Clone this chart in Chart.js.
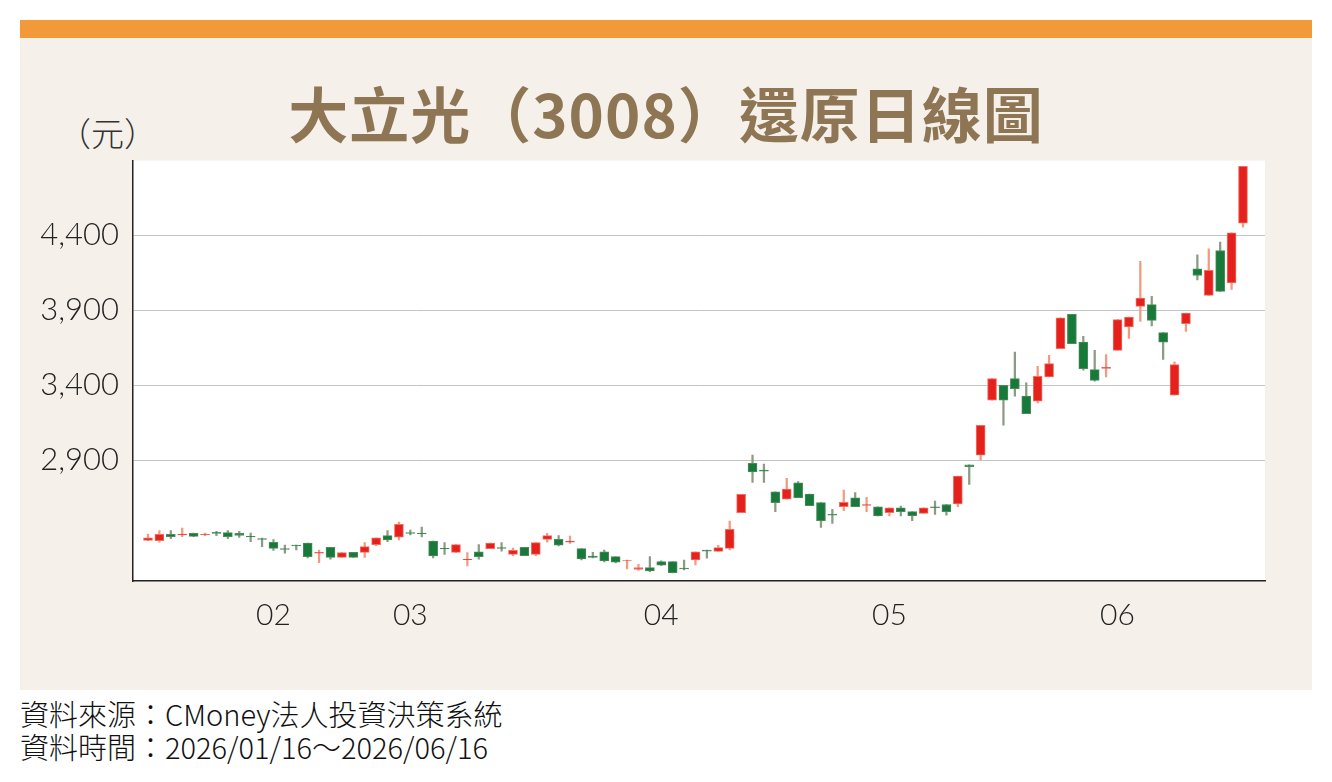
<!DOCTYPE html>
<html><head><meta charset="utf-8">
<script src="https://cdn.jsdelivr.net/npm/chart.js@4.4.1/dist/chart.umd.min.js"></script>
<style>
body{margin:0;background:#fff;width:1332px;height:782px;position:relative;overflow:hidden;font-family:"Noto Sans CJK TC","Noto Sans",sans-serif}
#panel{position:absolute;left:20px;top:20px;width:1292px;height:670px;background:#f5f1ea}
#bar{position:absolute;left:20px;top:20px;width:1292px;height:18px;background:#f29a3a}
#title{position:absolute;left:20px;width:1292px;top:74px;text-align:center;font-size:60px;font-weight:bold;color:#8e7554;line-height:76px;letter-spacing:1px}
#unit{position:absolute;left:58px;top:110px;font-size:33px;color:#333;line-height:44px;font-weight:300}
#cv{position:absolute;left:20px;top:128px;width:1292px;height:552px}
.foot{position:absolute;left:20px;font-size:29px;color:#111;line-height:32px;font-weight:300}
</style></head><body>
<div id="panel"></div><div id="bar"></div>
<div id="title">大立光（3008）還原日線圖</div>
<div id="unit">（元）</div>
<canvas id="cv" width="1292" height="552"></canvas>
<div class="foot" style="top:697px">資料來源：CMoney法人投資決策系統</div>
<div class="foot" style="top:730px">資料時間：2026/01/16～2026/06/16</div>
<script>
const opens=[2364,2362,2405,2400,2411,2402,2418,2416,2411,2391,2376,2351,2309,2333,2347,2278,2318,2251,2284,2284,2336,2396,2385,2416,2413,
2360,2311,2284,2236,2287,2309,2316,2271,2318,2271,2371,2371,2353,2309,2260,2287,2256,2227,2171,2182,2222,2222,2180,2233,
2300,2291,2311,2549,2878,2833,2689,2640,2749,2673,2616,2538,2589,2649,2598,2589,2549,2582,2556,2544,2589,2604,2607,2869,
2933,3300,3400,3444,3327,3293,3456,3644,3873,3689,3504,3513,3633,3789,
3927,3938,3751,3333,3811,4178,4000,4300,4084,4482];
const closes=[2382,2405,2389,2405,2391,2405,2411,2389,2398,2387,2371,2311,2304,2327,2256,2284,2251,2282,2251,2322,2382,2367,2471,2411,2409,
2260,2307,2336,2238,2256,2347,2311,2298,2262,2349,2396,2333,2358,2240,2251,2227,2218,2229,2182,2160,2198,2149,2173,2287,
2293,2316,2438,2671,2822,2827,2616,2707,2649,2596,2496,2533,2618,2589,2604,2527,2582,2556,2529,2582,2582,2556,2793,2856,
3133,3444,3300,3378,3211,3460,3544,3851,3678,3511,3433,3520,3838,3856,
3982,3833,3687,3538,3882,4133,4167,4027,4418,4862];
const highs=[2407,2429,2429,2447,2413,2413,2425,2429,2425,2413,2380,2369,2333,2333,2347,2300,2318,2282,2284,2349,2382,2429,2487,2433,2453,
2360,2349,2336,2282,2336,2347,2349,2313,2318,2349,2411,2396,2393,2309,2284,2300,2256,2233,2204,2256,2227,2222,2233,2287,
2300,2331,2493,2671,2933,2873,2689,2778,2756,2673,2616,2571,2700,2684,2651,2589,2582,2593,2556,2582,2627,2604,2793,2869,
3133,3444,3400,3622,3416,3527,3600,3851,3873,3727,3633,3604,3838,3856,
4227,3993,3751,3556,3882,4271,4311,4356,4418,4862];
const lows=[2362,2353,2375,2389,2389,2395,2395,2376,2384,2356,2322,2298,2278,2300,2247,2216,2238,2251,2251,2251,2329,2356,2367,2400,2387,
2247,2271,2284,2193,2238,2309,2293,2262,2262,2262,2353,2327,2344,2233,2247,2220,2213,2173,2164,2156,2196,2147,2167,2200,
2245,2291,2300,2549,2751,2751,2556,2640,2649,2596,2451,2478,2562,2589,2556,2527,2527,2527,2496,2544,2538,2533,2589,2738,
2900,3300,3133,3327,3211,3282,3456,3644,3678,3500,3427,3456,3633,3713,
3827,3796,3573,3333,3760,4104,4000,4027,4040,4456];
const monthIdx=[11,23,45,65,85];
const monthLabels=['02','03','04','05','06'];
const yTicks=[2900,3400,3900,4400];

const up=opens.map((o,i)=>closes[i]>=o);
const bodyData=opens.map((o,i)=>({x:i,y:[Math.min(o,closes[i]),Math.max(o,closes[i])]}));
const wickData=opens.map((o,i)=>({x:i,y:[lows[i],highs[i]]}));
const bg={id:'bg',beforeDraw(c){const a=c.chartArea,x=c.ctx;x.save();x.fillStyle='#fff';x.fillRect(a.left,a.top,a.right-a.left,a.bottom-a.top);x.restore();}};
new Chart(document.getElementById('cv'),{
 type:'bar',
 data:{datasets:[
  {data:wickData,barThickness:1.6,backgroundColor:up.map(u=>u?'#f29a80':'#8c9c84'),borderWidth:0,grouped:false,order:2},
  {data:bodyData,barThickness:9,backgroundColor:up.map(u=>u?'#e5211d':'#177a3a'),borderColor:up.map(u=>u?'#f07060':'#4e8a5c'),borderWidth:1,borderSkipped:false,grouped:false,order:1}
 ]},
 options:{responsive:false,animation:false,devicePixelRatio:1,
  layout:{padding:{top:6,right:47,left:0,bottom:0}},
  plugins:{legend:{display:false},tooltip:{enabled:false}},
  scales:{
   x:{type:'linear',min:-1.315,max:97.93,offset:false,
     afterBuildTicks(s){s.ticks=monthIdx.map(v=>({value:v}));},
     afterFit(s){s.height=99;},
     grid:{display:false,drawTicks:false},border:{color:'#222',width:1.5},
     ticks:{autoSkip:false,maxRotation:0,padding:16,color:'#222',font:{family:'Lato',size:30,weight:300},
       callback(v){const k=monthIdx.indexOf(v);return k>=0?monthLabels[k]:'';}}},
   y:{min:2093,max:4900,
     afterBuildTicks(s){s.ticks=yTicks.map(v=>({value:v}));},
     afterFit(s){s.width=113;},
     grid:{color:'#c4c4c4',lineWidth:1,drawTicks:false},
     border:{color:'#222',width:1.5},
     ticks:{padding:14,color:'#222',font:{family:'Lato',size:31,weight:300},callback:v=>v.toLocaleString('en-US')}}
  }},
 plugins:[bg]
});
</script></body></html>
